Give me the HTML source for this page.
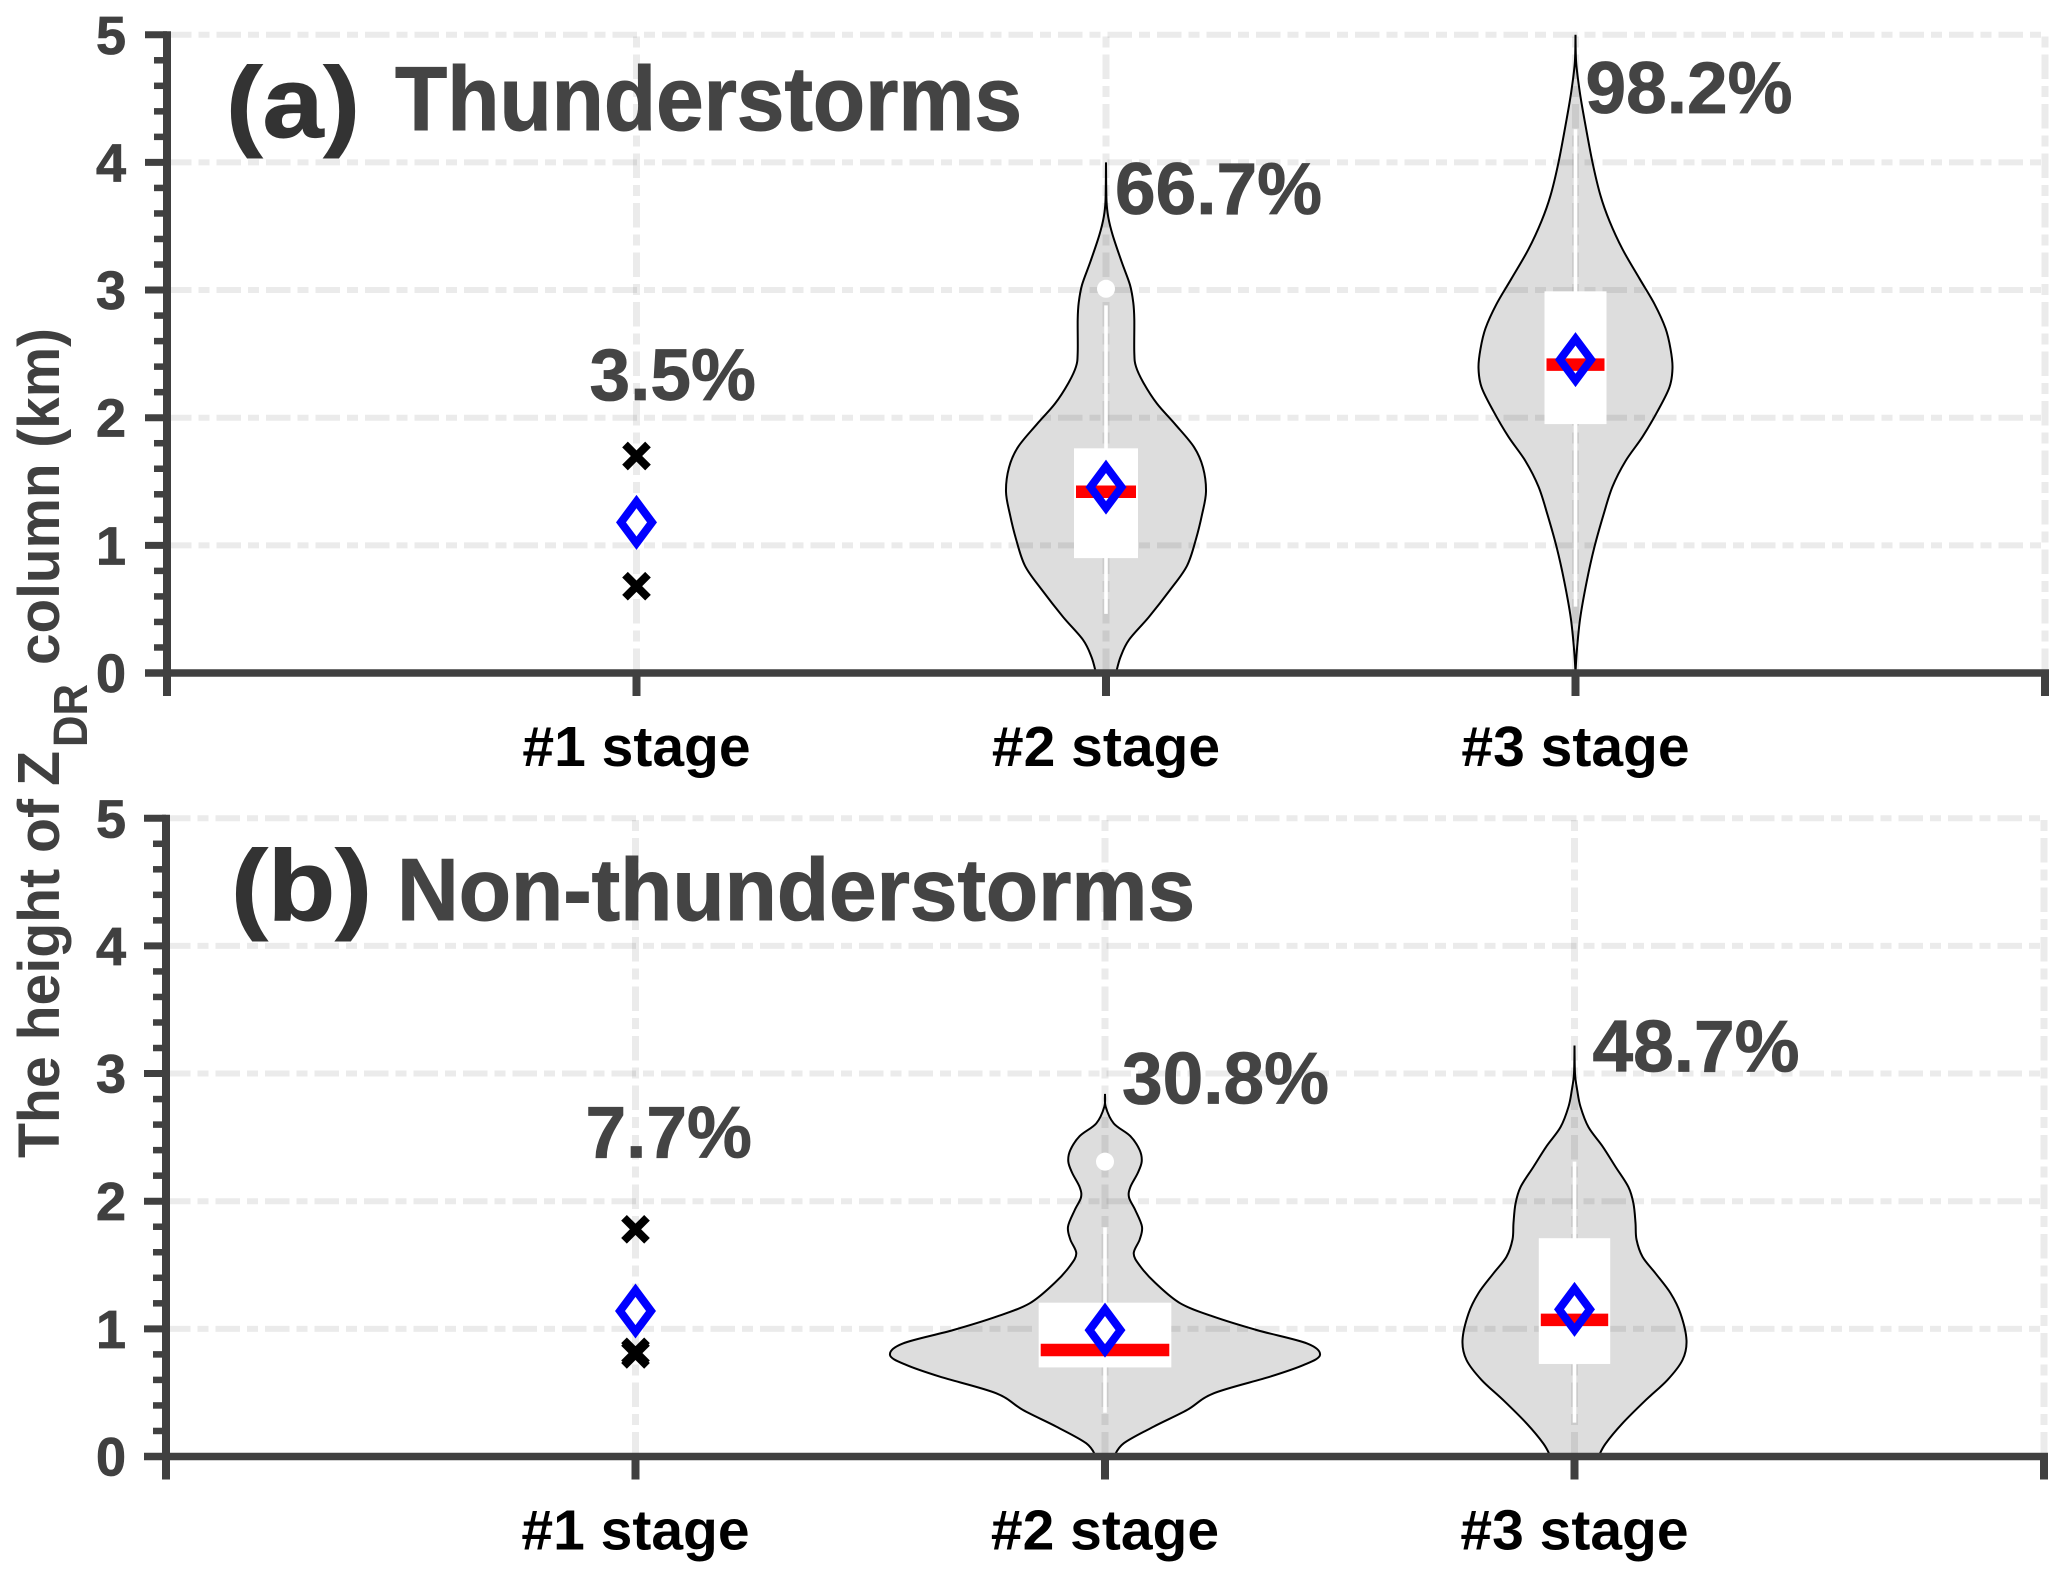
<!DOCTYPE html>
<html lang="en">
<head>
<meta charset="utf-8">
<title>Height of ZDR column by stage</title>
<style>
html,body{margin:0;padding:0;background:#fff;}
svg{display:block;}
text{font-family:"Liberation Sans",Arial,sans-serif;font-weight:bold;}
</style>
</head>
<body>
<svg id="chart" xmlns="http://www.w3.org/2000/svg" width="2067" height="1579" viewBox="0 0 2067 1579">
<rect x="0" y="0" width="2067" height="1579" fill="#fff"/>
<g id="plot"></g>
<g fill="#404040">
<text transform="translate(59,1158) rotate(-90)" font-size="58" textLength="359" lengthAdjust="spacingAndGlyphs">The height of</text>
<text transform="translate(59,786) rotate(-90)" font-size="59" textLength="35" lengthAdjust="spacingAndGlyphs">Z</text>
<text transform="translate(87,747) rotate(-90)" font-size="48" textLength="63" lengthAdjust="spacingAndGlyphs">DR</text>
<text transform="translate(59,665) rotate(-90)" font-size="58" textLength="337" lengthAdjust="spacingAndGlyphs">column (km)</text>
</g>
<text x="226" y="137" font-size="100" fill="#333" stroke="#333" stroke-width="1" textLength="134" lengthAdjust="spacingAndGlyphs">(a)</text>
<text x="395" y="130" font-size="91" fill="#444" stroke="#444" stroke-width="1" textLength="627" lengthAdjust="spacingAndGlyphs">Thunderstorms</text>
<text x="231" y="920" font-size="100" fill="#333" stroke="#333" stroke-width="1" textLength="141" lengthAdjust="spacingAndGlyphs">(b)</text>
<text x="397" y="920" font-size="88" fill="#444" stroke="#444" stroke-width="1" textLength="798" lengthAdjust="spacingAndGlyphs">Non-thunderstorms</text>
</svg>
<script>
// ----- shared axis data -----
const categories = ['#1 stage', '#2 stage', '#3 stage'];
const yTickLabels = [0, 1, 2, 3, 4, 5];
const yMinorTicks = [0.2, 0.4, 0.6, 0.8, 1.2, 1.4, 1.6, 1.8, 2.2, 2.4, 2.6, 2.8, 3.2, 3.4, 3.6, 3.8, 4.2, 4.4, 4.6, 4.8];

// ----- panel (a) thunderstorms -----
const aPercentLabels = ['3.5%', '66.7%', '98.2%'];
const aStage1Points = [1.70, 0.68];
const aStage1Mean = 1.18;
const aStage2Heights = [4.0, 3.70, 3.57, 3.43, 3.22, 3.04, 2.9, 2.77, 2.51, 2.40, 2.27, 2.11, 1.95, 1.77, 1.61, 1.42, 1.24, 1.05, 0.84, 0.65, 0.44, 0.26, 0.125, 0];
const aStage2Density = [0, 0.005, 0.023, 0.067, 0.157, 0.24, 0.273, 0.283, 0.283, 0.30, 0.377, 0.51, 0.69, 0.88, 0.97, 1.0, 0.96, 0.90, 0.81, 0.64, 0.43, 0.23, 0.145, 0.10];
const aStage3Heights = [5.0, 4.78, 4.55, 4.32, 4.0, 3.74, 3.54, 3.32, 3.09, 2.89, 2.70, 2.54, 2.39, 2.24, 2.05, 1.85, 1.66, 1.46, 1.24, 0.98, 0.72, 0.43, 0.17, 0];
const aStage3Density = [0, 0.007, 0.043, 0.093, 0.17, 0.25, 0.34, 0.47, 0.64, 0.79, 0.90, 0.95, 0.97, 0.94, 0.82, 0.67, 0.50, 0.37, 0.28, 0.187, 0.113, 0.047, 0.013, 0];
const aStage2Box = {q1: 0.90, median: 1.42, q3: 1.76, mean: 1.456, low: 0.463, high: 2.88, outlier: 3.01};
const aStage3Box = {q1: 1.95, median: 2.416, q3: 2.99, mean: 2.455, low: 0.52, high: 4.26};

// ----- panel (b) non-thunderstorms -----
const bPercentLabels = ['7.7%', '30.8%', '48.7%'];
const bStage1Points = [1.78, 0.82, 0.80];
const bStage1Mean = 1.14;
const bStage2Heights = [2.84, 2.74, 2.61, 2.51, 2.40, 2.31, 2.22, 2.11, 2.03, 1.93, 1.80, 1.70, 1.59, 1.49, 1.36, 1.20, 1.095, 0.99, 0.886, 0.795, 0.717, 0.625, 0.495, 0.364, 0.234, 0.103, 0];
const bStage2Density = [0, 0.007, 0.087, 0.253, 0.347, 0.367, 0.327, 0.253, 0.24, 0.303, 0.37, 0.347, 0.287, 0.353, 0.503, 0.753, 1.087, 1.52, 2.02, 2.15, 1.987, 1.65, 1.087, 0.82, 0.487, 0.187, 0.09];
const bStage3Heights = [3.22, 3.0, 2.87, 2.74, 2.58, 2.43, 2.27, 2.11, 1.98, 1.83, 1.70, 1.565, 1.435, 1.28, 1.12, 0.91, 0.756, 0.60, 0.44, 0.26, 0.10, 0];
const bStage3Density = [0, 0.005, 0.027, 0.06, 0.14, 0.28, 0.41, 0.54, 0.59, 0.61, 0.62, 0.68, 0.81, 0.96, 1.06, 1.12, 1.08, 0.93, 0.71, 0.48, 0.31, 0.24];
const bStage2Box = {q1: 0.698, median: 0.834, q3: 1.205, mean: 0.99, low: 0.343, high: 1.795, outlier: 2.31};
const bStage3Box = {q1: 0.725, median: 1.07, q3: 1.71, mean: 1.153, low: 0.265, high: 2.31};

// ----- layout (not data) -----
const NS = 'http://www.w3.org/2000/svg';
const plot = document.getElementById('plot');
const STEP = 469.5, UNIT = 127.65, DENSITY_PX = 100;
const GRID = 'rgba(0,0,0,0.08)', AXIS = '#404040';

function mk(tag, attrs, parent) {
  const el = document.createElementNS(NS, tag);
  for (const k in attrs) el.setAttribute(k, attrs[k]);
  (parent || plot).appendChild(el);
  return el;
}

function smoothPath(pts) {
  let d = 'M' + pts[0][0].toFixed(2) + ' ' + pts[0][1].toFixed(2);
  for (let i = 0; i < pts.length - 1; i++) {
    const p0 = pts[Math.max(i - 1, 0)], p1 = pts[i], p2 = pts[i + 1], p3 = pts[Math.min(i + 2, pts.length - 1)];
    const c1 = [p1[0] + (p2[0] - p0[0]) / 6, p1[1] + (p2[1] - p0[1]) / 6];
    const c2 = [p2[0] - (p3[0] - p1[0]) / 6, p2[1] - (p3[1] - p1[1]) / 6];
    d += 'C' + c1[0].toFixed(2) + ' ' + c1[1].toFixed(2) + ' ' + c2[0].toFixed(2) + ' ' + c2[1].toFixed(2) + ' ' + p2[0].toFixed(2) + ' ' + p2[1].toFixed(2);
  }
  return d;
}

function drawPanel(p) {
  const xS = c => p.x0 + (c + 1) * STEP;
  const xEdge = i => p.x0 + i * STEP;
  const yS = v => p.y0 - v * UNIT;

  const violins = [
    {stage: 1, heights: p.heights2, density: p.density2},
    {stage: 2, heights: p.heights3, density: p.density3}
  ];
  const violinShapes = violins.map(vi => {
    const right = vi.heights.map((h, i) => [xS(vi.stage) + vi.density[i] * DENSITY_PX, yS(h)]);
    const left = vi.heights.map((h, i) => [xS(vi.stage) - vi.density[i] * DENSITY_PX, yS(h)]);
    return {stage: vi.stage, right: smoothPath(right), left: smoothPath(left),
      closed: smoothPath(right) + 'L' + left[left.length - 1][0] + ' ' + left[left.length - 1][1] + smoothPath(left.slice().reverse()).replace(/^M[^C]*/, '') + 'Z'};
  });

  // violin fills sit beneath the translucent grid
  violinShapes.forEach(v => {
    const el = mk('path', {d: v.closed, fill: '#dddddd', stroke: 'none'});
    
    
  });

  // grid
  yTickLabels.slice(1).forEach(t => {
    const el = mk('line', {x1: p.x0, x2: xEdge(4), y1: yS(t), y2: yS(t), stroke: GRID, 'stroke-width': 6, 'stroke-dasharray': '24.5 7 11 7'});
    
    
  });
  [1, 2, 3, 4].forEach(i => {
    const el = mk('line', {x1: xEdge(i), x2: xEdge(i), y1: p.y0, y2: yS(5), stroke: GRID, 'stroke-width': 7, 'stroke-dasharray': '24.5 7 11 7'});
    
    
  });

  // violin outlines
  violinShapes.forEach(v => {
    const el = mk('path', {d: v.right + v.left, fill: 'none', stroke: '#000', 'stroke-width': 2});
    
    
  });

  // box summaries
  [{stage: 1, b: p.box2, hw: p.boxHw[0], mh: p.medHw[0]}, {stage: 2, b: p.box3, hw: p.boxHw[1], mh: p.medHw[1]}].forEach(o => {
    const cx = xS(o.stage), n = p.id + '-stage-' + (o.stage + 1);
    const w = mk('line', {x1: cx, x2: cx, y1: yS(o.b.low), y2: yS(o.b.high), stroke: '#fff', 'stroke-width': 3.6});
    
    
    const r = mk('rect', {x: cx - o.hw, y: yS(o.b.q3), width: o.hw * 2, height: yS(o.b.q1) - yS(o.b.q3), fill: '#fff'});
    
    
    const m = mk('line', {x1: cx - o.mh, x2: cx + o.mh, y1: yS(o.b.median), y2: yS(o.b.median), stroke: '#ff0000', 'stroke-width': 12.5});
    
    
    if (o.b.outlier !== undefined) {
      const c = mk('ellipse', {cx: cx, cy: yS(o.b.outlier), rx: 9, ry: 9, fill: '#fff'});
      
      
    }
    const dm = mk('path', {d: diamond(cx, yS(o.b.mean)), fill: 'none', stroke: '#0000ff', 'stroke-width': 8});
    
    
  });

  function diamond(cx, cy) {
    return 'M' + cx + ' ' + (cy - 20.8) + 'L' + (cx + 15.5) + ' ' + cy + 'L' + cx + ' ' + (cy + 20.8) + 'L' + (cx - 15.5) + ' ' + cy + 'Z';
  }

  // stage 1 scatter
  p.points1.forEach((v, i) => {
    const cx = xS(0), cy = yS(v);
    const el = mk('path', {d: 'M' + (cx - 11.5) + ' ' + (cy - 11.5) + 'L' + (cx + 11.5) + ' ' + (cy + 11.5) + 'M' + (cx + 11.5) + ' ' + (cy - 11.5) + 'L' + (cx - 11.5) + ' ' + (cy + 11.5), stroke: '#000', 'stroke-width': 8, fill: 'none'});
    
    
  });
  const md = mk('path', {d: diamond(xS(0), yS(p.mean1)), fill: '#fff', stroke: '#0000ff', 'stroke-width': 8});
  
  

  // axes
  const ya = mk('line', {x1: p.x0, x2: p.x0, y1: yS(5) - 3.5, y2: p.y0 + 23, stroke: AXIS, 'stroke-width': 8});
  
  
  const xa = mk('line', {x1: p.x0 - 22, x2: xEdge(4) + 4, y1: p.y0, y2: p.y0, stroke: AXIS, 'stroke-width': 7.5});
  
  

  yTickLabels.forEach(t => {
    const tick = mk('line', {x1: p.x0 - 22, x2: p.x0, y1: yS(t), y2: yS(t), stroke: AXIS, 'stroke-width': 7});
    
    
    const lab = mk('text', {x: 126, y: yS(t) + 19, 'font-size': 54, fill: AXIS, stroke: AXIS, 'stroke-width': 0.8, 'text-anchor': 'end'});
    lab.textContent = t;
    
    
  });
  yMinorTicks.forEach(t => {
    const tick = mk('line', {x1: p.x0 - 13, x2: p.x0, y1: yS(t), y2: yS(t), stroke: AXIS, 'stroke-width': 6.5});
    
    
  });
  [0, 1, 2, 3, 4].forEach(i => {
    const tick = mk('line', {x1: xEdge(i), x2: xEdge(i), y1: p.y0, y2: p.y0 + 23, stroke: AXIS, 'stroke-width': 8});
    
    
  });
  categories.forEach((c, i) => {
    const lab = mk('text', {x: xS(i), y: p.y0 + 93, 'font-size': 57, fill: '#000', 'text-anchor': 'middle'});
    lab.textContent = c;
    
    
  });
  p.percents.forEach((s, i) => {
    const lab = mk('text', {x: p.percentOffsets[i] + xS(i), y: p.y0 - p.percentRise[i], 'font-size': 73, fill: '#444', stroke: '#444', 'stroke-width': 0.8});
    lab.textContent = s;
    
    
  });
}

drawPanel({
  id: 'panel-a', x0: 167, y0: 673,
  heights2: aStage2Heights, density2: aStage2Density,
  heights3: aStage3Heights, density3: aStage3Density,
  box2: aStage2Box, box3: aStage3Box,
  boxHw: [32, 31], medHw: [30, 29],
  points1: aStage1Points, mean1: aStage1Mean,
  percents: aPercentLabels,
  percentOffsets: [-47, 9, 10],
  percentRise: [273, 459, 560]
});
drawPanel({
  id: 'panel-b', x0: 166, y0: 1456.5,
  heights2: bStage2Heights, density2: bStage2Density,
  heights3: bStage3Heights, density3: bStage3Density,
  box2: bStage2Box, box3: bStage3Box,
  boxHw: [66.3, 35.7], medHw: [64.3, 33.7],
  points1: bStage1Points, mean1: bStage1Mean,
  percents: bPercentLabels,
  percentOffsets: [-50, 17, 18],
  percentRise: [299, 353, 385]
});
</script>
</body>
</html>
